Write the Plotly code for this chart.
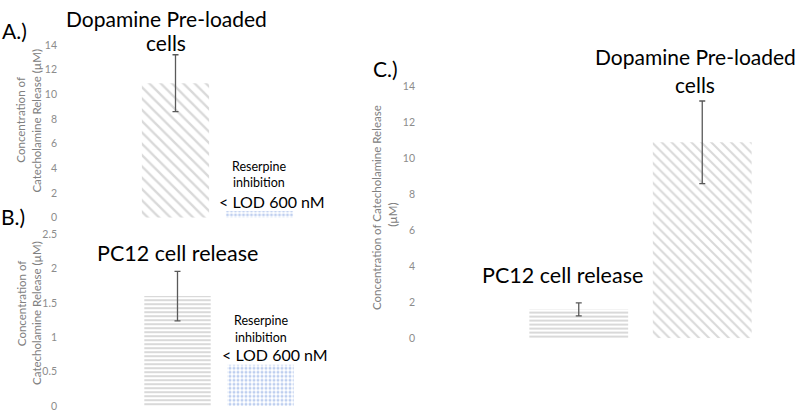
import plotly.graph_objects as go

# ---- data ----
panel_a_categories = ["Dopamine Pre-loaded cells", "Reserpine inhibition"]
panel_a_values = [10.9, 0.55]
panel_a_errors = [2.3, None]

panel_b_categories = ["PC12 cell release", "Reserpine inhibition"]
panel_b_values = [1.6, 0.6]
panel_b_errors = [0.36, None]

panel_c_categories = ["PC12 cell release", "Dopamine Pre-loaded cells"]
panel_c_values = [1.6, 10.9]
panel_c_errors = [0.36, 2.3]

W, H = 800, 416
def px(x):
    return x / W
def py(y):
    return 1 - y / H

GRAY_STRIPE = "#b4b4b4"
BLUE_DOT = "#7f9fe0"
ERR = "#595959"
TICK = "#8c8c8c"
FONT = "Lato"

diag = dict(shape="\\", fgcolor=GRAY_STRIPE, bgcolor="white", size=8, solidity=0.3)
diag_c = dict(shape="\\", fgcolor=GRAY_STRIPE, bgcolor="white", size=7, solidity=0.3)
horiz = dict(shape="-", fgcolor=GRAY_STRIPE, bgcolor="white", size=4, solidity=0.5)
dots = dict(shape=".", fgcolor=BLUE_DOT, bgcolor="white", size=4, solidity=0.45)

fig = go.Figure()

def err(arr):
    return dict(type="data", array=arr, color=ERR, thickness=1.3, width=3, visible=True)

# Panel A
fig.add_trace(go.Bar(x=panel_a_categories[:1], y=panel_a_values[:1], error_y=err(panel_a_errors[:1]),
                     marker=dict(color="white", line=dict(width=0), pattern=diag),
                     xaxis="x", yaxis="y", showlegend=False))
fig.add_trace(go.Bar(x=panel_a_categories[1:], y=panel_a_values[1:],
                     marker=dict(color="white", line=dict(width=0), pattern=dots),
                     xaxis="x", yaxis="y", showlegend=False))
# Panel B
fig.add_trace(go.Bar(x=panel_b_categories[:1], y=panel_b_values[:1], error_y=err(panel_b_errors[:1]),
                     marker=dict(color="white", line=dict(width=0), pattern=horiz),
                     xaxis="x2", yaxis="y2", showlegend=False))
fig.add_trace(go.Bar(x=panel_b_categories[1:], y=panel_b_values[1:],
                     marker=dict(color="white", line=dict(width=0), pattern=dots),
                     xaxis="x2", yaxis="y2", showlegend=False))
# Panel C
fig.add_trace(go.Bar(x=panel_c_categories[:1], y=panel_c_values[:1], error_y=err(panel_c_errors[:1]),
                     marker=dict(color="white", line=dict(width=0), pattern=horiz),
                     xaxis="x3", yaxis="y3", showlegend=False))
fig.add_trace(go.Bar(x=panel_c_categories[1:], y=panel_c_values[1:], error_y=err(panel_c_errors[1:]),
                     marker=dict(color="white", line=dict(width=0), pattern=diag_c),
                     xaxis="x3", yaxis="y3", showlegend=False))

xcommon = dict(visible=False, type="category", fixedrange=True)
ycommon = dict(showgrid=False, zeroline=False, showline=False, ticks="",
               tickfont=dict(family=FONT, size=10.5, color=TICK), anchor="free", fixedrange=True)

fig.update_layout(
    width=W, height=H,
    margin=dict(l=0, r=0, t=0, b=0),
    paper_bgcolor="white", plot_bgcolor="rgba(0,0,0,0)",
    barmode="overlay",
    font=dict(family=FONT),
    xaxis=dict(domain=[px(133.5), px(301.5)], anchor="y", **xcommon),
    yaxis=dict(domain=[py(218), py(40)], range=[0, 14], dtick=2, position=px(57), **ycommon),
    xaxis2=dict(domain=[px(136), px(302)], anchor="y2", **xcommon),
    yaxis2=dict(domain=[py(412), py(235)], range=[0, 2.5], dtick=0.5, position=px(57), **ycommon),
    xaxis3=dict(domain=[px(517), px(764)], anchor="y3", **xcommon),
    yaxis3=dict(domain=[py(342), py(83)], range=[0, 14], dtick=2, position=px(415), **ycommon),
    bargap=0.2,
)

def ann(text, x, y, size, color="black", angle=0):
    fig.add_annotation(text=text, x=px(x), y=py(y), xref="paper", yref="paper",
                       showarrow=False, xanchor="center", yanchor="middle",
                       textangle=angle, font=dict(family=FONT, size=size, color=color))

# panel letters
ann("A.)", 14, 25, 21)
ann("B.)", 13, 217, 21)
ann("C.)", 385, 64, 21)

# axis titles
ann("Concentration of", 21, 117, 11.5, "#808080", -90)
ann("Catecholamine Release (µM)", 37, 118, 11.5, "#808080", -90)
ann("Concentration of", 21, 306, 11.5, "#808080", -90)
ann("Catecholamine Release (µM)", 37, 316, 11.5, "#808080", -90)
ann("Concentration of Catecholamine Release", 376, 208, 11.5, "#808080", -90)
ann("(µM)", 393, 215, 11.5, "#808080", -90)

# big labels
ann("Dopamine Pre-loaded", 166, 13, 21)
ann("cells", 166, 38, 21)
ann("PC12 cell release", 177, 254, 21.5)
ann("Dopamine Pre-loaded", 695, 52, 21)
ann("cells", 695, 81, 21)
ann("PC12 cell release", 562, 277, 21.5)

# reserpine labels
ann("Reserpine", 259, 165, 12.5)
ann("inhibition", 259, 182, 12.5)
ann("< LOD 600 nM", 272, 201, 16)
ann("Reserpine", 261, 324, 12.5)
ann("inhibition", 261, 341, 12.5)
ann("< LOD 600 nM", 275, 359, 16)

fig.write_html("out.html",
               config={"displayModeBar": False, "staticPlot": True},
               post_script="document.body.style.margin='0';document.body.style.padding='0';")
